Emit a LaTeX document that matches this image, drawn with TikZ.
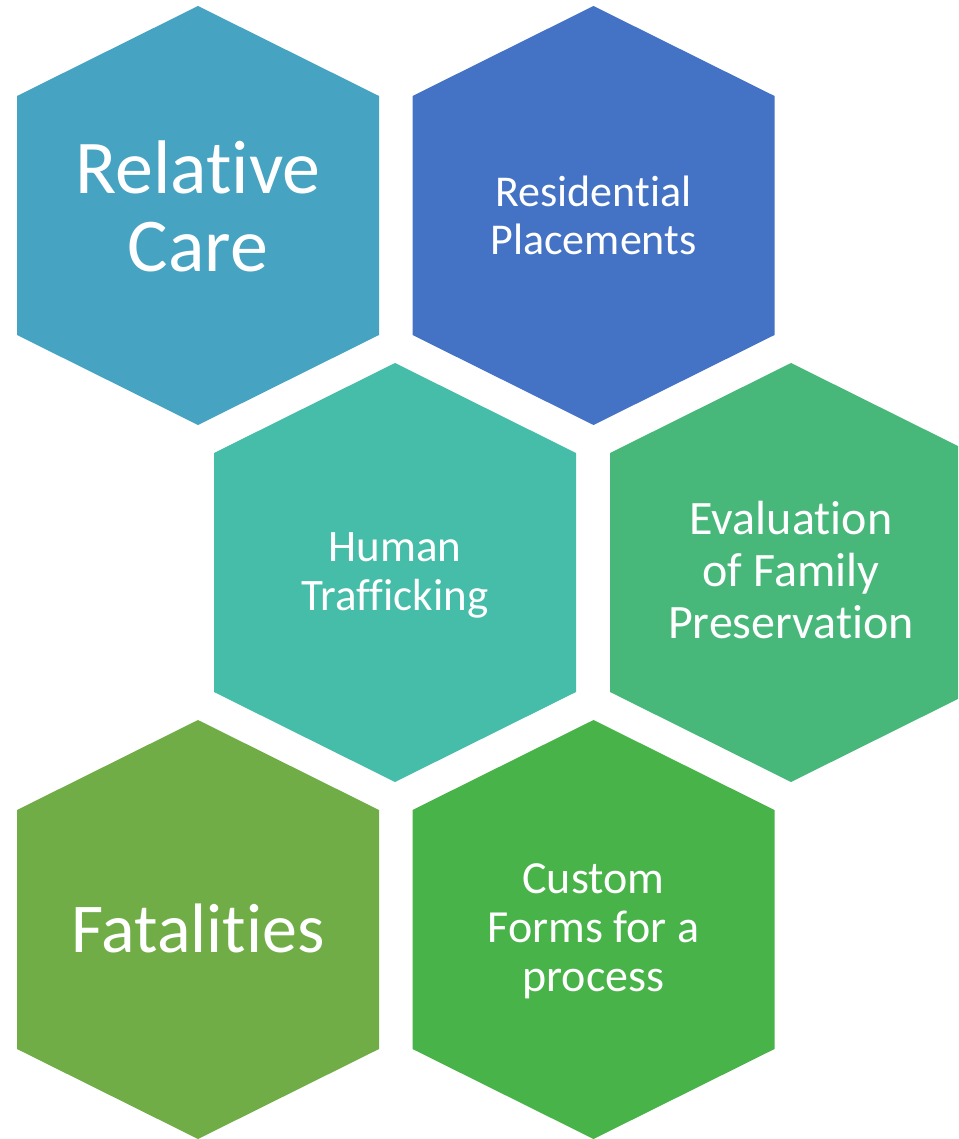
\documentclass[tikz,border=0pt]{standalone}
\usepackage{fontspec}
\setmainfont[Ligatures={NoCommon}]{Carlito}
\definecolor{hexA}{HTML}{46A3C2}
\definecolor{hexB}{HTML}{4472C4}
\definecolor{hexC}{HTML}{46BDA8}
\definecolor{hexD}{HTML}{48B87A}
\definecolor{hexE}{HTML}{70AD47}
\definecolor{hexF}{HTML}{48B348}
\begin{document}
\begin{tikzpicture}[x=1pt,y=1pt,
  hex/.pic={\fill (0,209.5) -- (181,119.5) -- (181,-119.5) -- (0,-209.5) -- (-181,-119.5) -- (-181,119.5) -- cycle;},
  lbl/.style={text=white,align=center,inner sep=0pt},
  big/.style={lbl,font=\fontsize{76}{78}\selectfont},
  fatfont/.style={lbl,font=\fontsize{70}{72}\selectfont},
  resfont/.style={lbl,font=\fontsize{44}{48}\selectfont},
  humfont/.style={lbl,font=\fontsize{45}{49}\selectfont},
  evfont/.style={lbl,font=\fontsize{48}{52}\selectfont},
  cusfont/.style={lbl,font=\fontsize{46}{49}\selectfont}]
\useasboundingbox (0,0) rectangle (958,-1139);
\clip (0,0) rectangle (958,-1139);
\pic[color=hexA] at (198,-215.5) {hex};
\pic[color=hexB] at (593.5,-215.5) {hex};
\pic[color=hexC] at (395,-572.5) {hex};
\pic[color=hexD] at (791,-572.5) {hex};
\pic[color=hexE] at (198,-929.5) {hex};
\pic[color=hexF] at (593.5,-929.5) {hex};
\node[big] (relcare) at (198,-206) {Relative\\Care};
\node[resfont] (resid) at (593.5,-215.5) {Residential\\Placements};
\node[humfont] (human) at (395,-575) {Human\\Trafficking};
\node[evfont] (evalu) at (791,-570) {Evaluation\\of Family\\Preservation};
\node[fatfont] (fatal) at (198,-928) {Fatalities};
\node[cusfont] (custom) at (593.5,-931) {Custom\\Forms for a\\process};
\end{tikzpicture}
\end{document}
